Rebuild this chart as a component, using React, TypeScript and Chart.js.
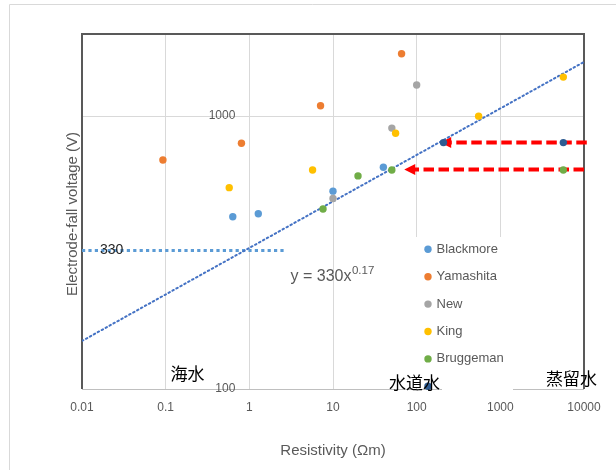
import React, { useEffect, useRef } from 'react';
import { Chart, registerables } from 'chart.js';

Chart.register(...registerables);

// ---- data ----
const blackmoreX = [0.634, 1.28, 10, 40];
const blackmoreY = [428, 439, 531, 650];
const yamashitaX = [0.0927, 0.805, 7.1, 66];
const yamashitaY = [691, 796, 1091, 1692];
const newX = [10, 50.5, 100];
const newY = [499, 904, 1300];
const kingX = [0.575, 5.7, 56, 550, 5660];
const kingY = [547, 635, 866, 1000, 1390];
const bruggemanX = [7.6, 19.9, 50.5, 5660];
const bruggemanY = [457, 604, 635, 635];
const extraX = [209, 5660];
const extraY = [800, 800];

const trendX = [0.01, 10000];
const trendY = [150, 1580];
const refX = [0.01, 2.7];
const refY = [322, 322];

const xTicks = [0.01, 0.1, 1, 10, 100, 1000, 10000];
const xTickLabels = ['0.01', '0.1', '1', '10', '100', '1000', '10000'];
const yTicks = [100, 1000];
const yTickLabels = ['100', '1000'];
const yAxisCrossX = 1;

const seriesNames = ['Blackmore', 'Yamashita', 'New', 'King', 'Bruggeman', ''];
const seriesColors = ['#5B9BD5', '#ED7D31', '#A5A5A5', '#FFC000', '#70AD47', '#2E5C92'];

const arrowTailX = [10800, 10000];
const arrowTipX = [191, 71];
const arrowY = [800, 638];

const FONT = "'Liberation Sans', Arial, sans-serif";
const CJK = "'Noto Sans CJK JP', 'Noto Sans CJK SC', sans-serif";

export default function App() {
  const ref = useRef<HTMLCanvasElement>(null);

  useEffect(() => {
    const canvas = ref.current!;
    const mk = (xs: number[], ys: number[]) => xs.map((x, i) => ({ x, y: ys[i] }));
    const sets = [
      mk(blackmoreX, blackmoreY),
      mk(yamashitaX, yamashitaY),
      mk(newX, newY),
      mk(kingX, kingY),
      mk(bruggemanX, bruggemanY),
      mk(extraX, extraY),
    ];
    const datasets: any[] = sets.map((d, i) => ({
      label: seriesNames[i] || 'Series6',
      data: d,
      backgroundColor: seriesColors[i],
      borderColor: seriesColors[i],
      borderWidth: 0,
      pointRadius: 3.7,
      pointHoverRadius: 3.7,
      order: 10 - i,
    }));
    datasets.push({
      label: 'trend',
      data: mk(trendX, trendY),
      showLine: true,
      borderColor: '#4472C4',
      borderWidth: 2,
      borderDash: [1.5, 3],
      borderCapStyle: 'round',
      pointRadius: 0,
      order: 30,
    });
    datasets.push({
      label: 'ref',
      data: mk(refX, refY),
      showLine: true,
      borderColor: '#5B9BD5',
      borderWidth: 3,
      borderDash: [3.2, 3.2],
      pointRadius: 0,
      order: 31,
    });

    const deco = {
      id: 'deco',
      beforeDatasetsDraw(chart: any) {
        const { ctx, chartArea: ca, scales } = chart;
        const xs = scales.x;
        const ys = scales.y;
        ctx.save();
        // legend background box hides some grid lines
        ctx.fillStyle = '#ffffff';
        ctx.fillRect(405, 237, 125, 151);
        ctx.fillRect(442, 386, 71, 6);
        // bottom axis line
        const yb = Math.round(ca.bottom) + 0.5;
        ctx.strokeStyle = '#BFBFBF';
        ctx.lineWidth = 1;
        ctx.beginPath();
        ctx.moveTo(ca.left, yb);
        ctx.lineTo(442, yb);
        ctx.moveTo(513, yb);
        ctx.lineTo(ca.right, yb);
        ctx.stroke();
        // plot border
        ctx.strokeStyle = '#595959';
        ctx.lineWidth = 2;
        ctx.beginPath();
        ctx.moveTo(ca.left, ca.bottom);
        ctx.lineTo(ca.left, ca.top);
        ctx.lineTo(ca.right, ca.top);
        ctx.lineTo(ca.right, ca.bottom);
        ctx.stroke();
        // outer chart border
        ctx.strokeStyle = '#D9D9D9';
        ctx.lineWidth = 1;
        ctx.beginPath();
        ctx.moveTo(9.5, 470);
        ctx.lineTo(9.5, 4.5);
        ctx.lineTo(616, 4.5);
        ctx.stroke();
        // y tick labels at the axis crossing (x = 1)
        const xCross = xs.getPixelForValue(yAxisCrossX);
        ctx.fillStyle = '#595959';
        ctx.font = `12px ${FONT}`;
        ctx.textAlign = 'right';
        ctx.textBaseline = 'middle';
        yTicks.forEach((v, i) => {
          ctx.fillText(yTickLabels[i], xCross - 14, ys.getPixelForValue(v));
        });
        // red arrows
        arrowY.forEach((yv, i) => {
          const y = ys.getPixelForValue(yv);
          const tail = xs.getPixelForValue(arrowTailX[i]);
          const tip = xs.getPixelForValue(arrowTipX[i]);
          ctx.strokeStyle = '#FF0000';
          ctx.lineWidth = 4;
          ctx.setLineDash([10.5, 4.5]);
          ctx.beginPath();
          ctx.moveTo(tail, y);
          ctx.lineTo(tip + 10, y);
          ctx.stroke();
          ctx.setLineDash([]);
          ctx.fillStyle = '#FF0000';
          ctx.beginPath();
          ctx.moveTo(tip, y);
          ctx.lineTo(tip + 11, y - 5.5);
          ctx.lineTo(tip + 11, y + 5.5);
          ctx.closePath();
          ctx.fill();
        });
        ctx.restore();
      },
      afterDraw(chart: any) {
        const { ctx, chartArea: ca } = chart;
        ctx.save();
        // legend
        ctx.textBaseline = 'middle';
        ctx.textAlign = 'left';
        ctx.font = `13px ${FONT}`;
        seriesNames.forEach((name, i) => {
          const y = 249.3 + i * 27.4;
          ctx.fillStyle = seriesColors[i];
          ctx.beginPath();
          ctx.arc(428, y, 3.7, 0, Math.PI * 2);
          ctx.fill();
          if (name) {
            ctx.fillStyle = '#595959';
            ctx.fillText(name, 436.5, y);
          }
        });
        // 330 label
        ctx.fillStyle = '#262626';
        ctx.font = `14px ${FONT}`;
        ctx.fillText('330', 100, 250.5);
        // equation
        ctx.fillStyle = '#595959';
        ctx.font = `16px ${FONT}`;
        const eq = 'y = 330x';
        ctx.fillText(eq, 290.5, 277);
        const w = ctx.measureText(eq).width;
        ctx.font = `11.5px ${FONT}`;
        ctx.fillText('0.17', 290.5 + w + 0.5, 271);
        // japanese labels
        ctx.fillStyle = '#000000';
        ctx.font = `17px ${CJK}`;
        ctx.fillText('海水', 170.5, 373.5);
        ctx.fillText('水道水', 389, 382.5);
        ctx.fillText('蒸留水', 546, 378.5);
        // axis titles
        ctx.fillStyle = '#595959';
        ctx.font = `15px ${FONT}`;
        ctx.textAlign = 'center';
        ctx.fillText('Resistivity (\u03A9m)', (ca.left + ca.right) / 2, 451);
        ctx.translate(72.7, 214);
        ctx.rotate(-Math.PI / 2);
        ctx.fillText('Electrode-fall voltage (V)', 0, 0);
        ctx.restore();
      },
    };

    const chart = new Chart(canvas, {
      type: 'scatter',
      data: { datasets },
      options: {
        animation: false,
        responsive: false,
        devicePixelRatio: 1,
        events: [],
        layout: { padding: { left: 82, right: 32, top: 34, bottom: 21 } },
        plugins: {
          legend: { display: false },
          tooltip: { enabled: false },
          title: { display: false },
        },
        scales: {
          x: {
            type: 'logarithmic',
            position: 'bottom',
            min: 0.01,
            max: 10000,
            afterBuildTicks: (s: any) => {
              s.ticks = xTicks.map((v) => ({ value: v }));
            },
            afterFit: (s: any) => {
              s.height = 60;
            },
            grid: { color: '#D9D9D9', lineWidth: 1, drawTicks: false },
            border: { display: false },
            ticks: {
              autoSkip: false,
              maxRotation: 0,
              padding: 11,
              color: '#595959',
              font: { family: FONT, size: 12 },
              callback: (_v: any, i: number) => xTickLabels[i],
            },
          },
          y: {
            type: 'logarithmic',
            position: { x: yAxisCrossX } as any,
            min: 100,
            max: 2000,
            afterBuildTicks: (s: any) => {
              s.ticks = yTicks.map((v) => ({ value: v }));
            },
            grid: { color: '#D9D9D9', lineWidth: 1, drawTicks: false },
            border: { display: false },
            ticks: { display: false },
          },
        },
      },
      plugins: [deco],
    } as any);

    return () => chart.destroy();
  }, []);

  return (
    <div style={{ position: 'fixed', left: 0, top: 0, width: 616, height: 470, background: '#fff' }}>
      <canvas ref={ref} width={616} height={470} style={{ display: 'block' }} />
    </div>
  );
}
